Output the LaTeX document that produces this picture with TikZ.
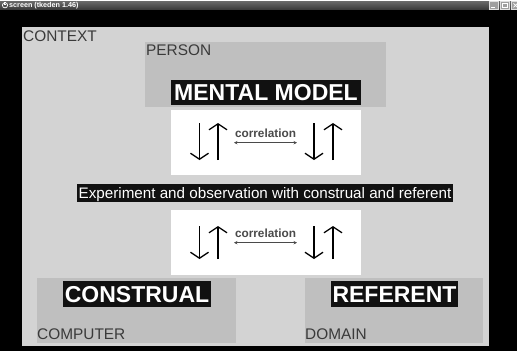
\documentclass[tikz,border=0pt]{standalone}
\usepackage{fontspec}
\setmainfont{Liberation Sans}
\usetikzlibrary{arrows.meta}
\definecolor{ctxbg}{HTML}{D3D3D3}
\definecolor{boxbg}{HTML}{BFBFBF}
\definecolor{lblbg}{HTML}{111111}
\definecolor{txtgray}{HTML}{3A3A3A}
\definecolor{corrgray}{HTML}{4A4A4A}
\definecolor{barlight}{HTML}{6A6A6A}
\definecolor{bardark}{HTML}{3A3A3A}
\newcommand\myfs[1]{\fontsize{#1}{#1}\selectfont}
\tikzset{
  region/.style={fill=boxbg, draw=none, inner sep=0pt, anchor=north west},
  whitebox/.style={fill=white, draw=none, inner sep=0pt, anchor=north west},
  plainlbl/.style={text=txtgray, font=\myfs{15.4}, inner sep=0pt, anchor=base west},
  blklabel/.style={fill=lblbg, text=white, font=\myfs{23}\bfseries, inner sep=0pt,
    text height=16.5pt, text depth=0pt},
  banner/.style={fill=lblbg, text=white, font=\myfs{15.2}, inner sep=0pt,
    text height=10.9pt, text depth=0pt},
  corrtxt/.style={text=corrgray, font=\myfs{11.8}\bfseries, inner sep=0pt},
  vert/.style={line width=1.3pt, -{Straight Barb[length=6pt,width=18pt,line width=1.3pt]}},
  corr/.style={corrgray, line width=0.7pt, {Stealth[length=3.5pt,width=3.5pt]}-{Stealth[length=3.5pt,width=3.5pt]}},
  winbtn/.style={fill=gray!75, draw=gray!25, line width=0.5pt, inner sep=0pt,
    minimum width=9pt, minimum height=7.5pt},
}
\begin{document}
\begin{tikzpicture}[x=1pt,y=-1pt]
\useasboundingbox (0,0) rectangle (517,351);
% window frame
\fill[white] (0,0) rectangle (517,1);
\fill[black] (0,9.5) rectangle (517,351);
\shade[top color=barlight, bottom color=bardark] (0,1) rectangle (517,9.5);
\draw[white, line width=0.7pt] (5,5.3) circle (2.6pt);
\draw[white, line width=0.6pt] (6.1,4.2) arc[start angle=-45, end angle=-315, radius=1.3pt];
\node[text=white, font=\myfs{7.2}\bfseries, inner sep=0pt, anchor=west] (title) at (9,5.5) {screen (tkeden 1.46)};
\node[winbtn] (bmin) at (493.5,5.3) {};
\node[winbtn] (bmax) at (504.5,5.3) {};
\node[winbtn] (bclose) at (515.5,5.3) {};
\draw[white, line width=0.8pt] ([xshift=-2.5pt,yshift=-2pt]bmin.center) -- ([xshift=1.5pt,yshift=-2pt]bmin.center);
\draw[white, line width=0.5pt] ([xshift=-2.5pt,yshift=-2.3pt]bmax.center) rectangle ([xshift=2.5pt,yshift=2.3pt]bmax.center);
\draw[white, line width=0.7pt] ([xshift=-2pt,yshift=-2pt]bclose.center) -- ([xshift=2pt,yshift=2pt]bclose.center)
  ([xshift=-2pt,yshift=2pt]bclose.center) -- ([xshift=2pt,yshift=-2pt]bclose.center);
% context
\fill[ctxbg] (22,27) rectangle (489,346);
\node[plainlbl] (context) at (23,41.7) {CONTEXT};
% person
\node[region, minimum width=241pt, minimum height=65pt] (person) at (145,42) {};
\node[plainlbl] (personlbl) at (146,55.7) {PERSON};
\node[blklabel, minimum width=190pt, minimum height=25pt] (mental) at (266,92.5) {MENTAL MODEL};
% white box 1
\node[whitebox, minimum width=190pt, minimum height=65pt] (wbox1) at (171,110) {};
\draw[vert] (199.5,123) -- (199.5,160);
\draw[vert] (218,160) -- (218,123);
\draw[vert] (314,123) -- (314,160);
\draw[vert] (333,160) -- (333,123);
\node[corrtxt] (corr1) at (265.5,133) {correlation};
\coordinate (c1l) at (234,142.7);
\coordinate (c1r) at (297,142.7);
\draw[corr] (c1l) -- (c1r);
% banner
\node[banner, minimum width=376pt, minimum height=18pt] (experiment) at (265,193) {Experiment and observation with construal and referent};
% white box 2
\node[whitebox, minimum width=190pt, minimum height=65pt] (wbox2) at (171,210) {};
\draw[vert] (199.5,226) -- (199.5,259);
\draw[vert] (218,259) -- (218,226);
\draw[vert] (314,226) -- (314,259);
\draw[vert] (333,259) -- (333,226);
\node[corrtxt] (corr2) at (265.5,233.3) {correlation};
\coordinate (c2l) at (234,242.7);
\coordinate (c2r) at (297,242.7);
\draw[corr] (c2l) -- (c2r);
% computer / domain
\node[region, minimum width=199pt, minimum height=65pt] (computer) at (37,278) {};
\node[blklabel, minimum width=148pt, minimum height=26pt] (construal) at (137,294) {CONSTRUAL};
\node[plainlbl] (computerlbl) at (37,339) {COMPUTER};
\node[region, minimum width=178pt, minimum height=65pt] (domain) at (305,278) {};
\node[blklabel, minimum width=127pt, minimum height=26pt] (referent) at (394.5,294) {REFERENT};
\node[plainlbl] (domainlbl) at (305,339) {DOMAIN};
\end{tikzpicture}
\end{document}
